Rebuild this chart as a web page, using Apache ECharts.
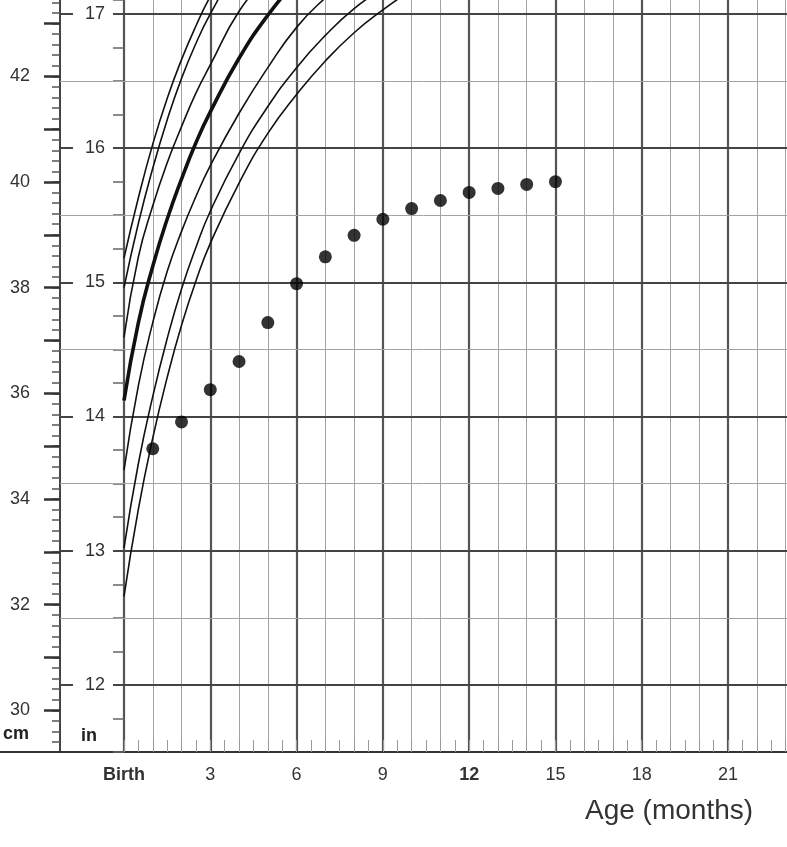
<!DOCTYPE html>
<html><head><meta charset="utf-8">
<script src="https://cdn.jsdelivr.net/npm/echarts@6/dist/echarts.min.js"></script>
<style>html,body{margin:0;padding:0;background:#fff}#c{width:787px;height:847px}</style>
</head><body><div id="c"></div>
<script>
// ---- data (inches vs age in months) ----
const ages = [0, 0.5, 1, 1.5, 2, 2.5, 3, 4, 5, 6, 7, 8, 9, 10];
const p95 = [15.18, 15.63, 16.03, 16.37, 16.66, 16.91, 17.13, 17.49, 17.78, 18.03, 18.24, 18.42, 18.58, 18.72];
const p90 = [14.96, 15.44, 15.85, 16.21, 16.52, 16.78, 17.00, 17.37, 17.67, 17.92, 18.13, 18.31, 18.47, 18.61];
const p75 = [14.59, 15.19, 15.57, 15.89, 16.16, 16.41, 16.62, 17.02, 17.28, 17.50, 17.69, 17.86, 18.01, 18.15];
const p50 = [14.12, 14.70, 15.12, 15.47, 15.77, 16.04, 16.27, 16.67, 16.99, 17.25, 17.47, 17.65, 17.81, 17.95];
const p25 = [13.60, 14.23, 14.70, 15.08, 15.38, 15.64, 15.87, 16.26, 16.60, 16.90, 17.12, 17.30, 17.45, 17.58];
const p10 = [13.02, 13.65, 14.15, 14.58, 14.95, 15.26, 15.53, 15.96, 16.31, 16.60, 16.84, 17.04, 17.19, 17.32];
const p5  = [12.66, 13.31, 13.84, 14.29, 14.68, 15.01, 15.29, 15.74, 16.11, 16.40, 16.65, 16.86, 17.03, 17.18];

const patientAges = [1, 2, 3, 4, 5, 6, 7, 8, 9, 10, 11, 12, 13, 14, 15];
const patientHC   = [13.76, 13.96, 14.20, 14.41, 14.70, 14.99, 15.19, 15.35, 15.47, 15.55, 15.61, 15.67, 15.70, 15.73, 15.75];

const monthTicks  = [0, 3, 6, 9, 12, 15, 18, 21];
const monthLabels = ['Birth', '3', '6', '9', '12', '15', '18', '21'];
const inchTicks   = [12, 13, 14, 15, 16, 17];
const halfInchTicks = [12.5, 13.5, 14.5, 15.5, 16.5];
const cmLabelTicks  = [30, 32, 34, 36, 38, 40, 42];
const cmMajorTicks  = [30, 31, 32, 33, 34, 35, 36, 37, 38, 39, 40, 41, 42, 43];

// ---- axis extents ----
const X_MIN = 0, X_MAX = 23.05;
const Y_MIN = 11.5, Y_MAX = 17.104;
const CM = 2.54;
const cmMinorTicks = [];
for (let k = 147; k <= 217; k++) cmMinorTicks.push(Math.round(k * 20) / 100);

const FONT = '"Liberation Sans", Arial, Helvetica, sans-serif';
const chart = echarts.init(document.getElementById('c'), null, {renderer: 'canvas'});

const off = {show: false};
const curveSet = [
  {d: p95, w: 1.6}, {d: p90, w: 1.6}, {d: p75, w: 1.6}, {d: p50, w: 3.6},
  {d: p25, w: 1.6}, {d: p10, w: 1.6}, {d: p5, w: 1.6}
];
const series = curveSet.map(c => ({
  type: 'line', xAxisIndex: 0, yAxisIndex: 0,
  data: ages.map((a, i) => [a, c.d[i]]),
  smooth: 0.5, symbol: 'none', clip: true, silent: true,
  lineStyle: {color: '#111', width: c.w}
}));
series.push({
  type: 'scatter', xAxisIndex: 0, yAxisIndex: 0,
  data: patientAges.map((a, i) => [a, patientHC[i]]),
  symbol: 'circle', symbolSize: 13, itemStyle: {color: '#000'}, silent: true, z: 5
});

const option = {
  animation: false,
  backgroundColor: '#fff',
  textStyle: {fontFamily: FONT},
  grid: [
    {left: 124, right: 0, top: 0, bottom: 95},
    {left: 60, width: 64, top: 0, bottom: 95},
    {left: 0, width: 60, top: 0, bottom: 95}
  ],
  xAxis: [
    {gridIndex: 0, type: 'value', position: 'bottom', min: X_MIN, max: X_MAX, interval: 1,
     axisLine: off, axisTick: off, axisLabel: off,
     splitLine: {show: true, showMinLine: false, showMaxLine: false, lineStyle: {color: '#a3a3a3', width: 1}}},
    {gridIndex: 0, type: 'value', position: 'bottom', min: X_MIN, max: X_MAX, interval: 3,
     axisLine: {show: true, onZero: false, lineStyle: {color: '#333', width: 2}},
     axisTick: off,
     axisLabel: {show: true, customValues: monthTicks, margin: 14, fontSize: 18, color: '#333',
       formatter: v => {
         const i = monthTicks.indexOf(v);
         if (i < 0) return '';
         const t = monthLabels[i];
         return (t === 'Birth' || t === '12') ? '{b|' + t + '}' : '{n|' + t + '}';
       },
       rich: {b: {fontWeight: 'bold', fontSize: 18, color: '#333', fontFamily: FONT},
              n: {fontSize: 18, color: '#333', fontFamily: FONT}}},
     splitLine: {show: true, showMaxLine: false, lineStyle: {color: '#555', width: 2.2}}},
    {gridIndex: 0, type: 'value', position: 'bottom', min: X_MIN, max: X_MAX, interval: 0.5,
     axisLine: off, axisLabel: off, splitLine: off,
     axisTick: {show: true, inside: true, length: 12, lineStyle: {color: '#999', width: 1}}},
    {gridIndex: 1, type: 'value', position: 'bottom', min: 0, max: 1, axisLabel: off, axisTick: off, splitLine: off,
     axisLine: {show: true, onZero: false, lineStyle: {color: '#333', width: 2}}},
    {gridIndex: 2, type: 'value', position: 'bottom', min: 0, max: 1, axisLabel: off, axisTick: off, splitLine: off,
     axisLine: {show: true, onZero: false, lineStyle: {color: '#333', width: 2}}}
  ],
  yAxis: [
    {gridIndex: 0, type: 'value', min: Y_MIN, max: Y_MAX, interval: 0.25, position: 'left',
     axisLine: off, axisLabel: off, splitLine: off,
     axisTick: {show: true, length: 11, lineStyle: {color: '#666', width: 1.5}}},
    {gridIndex: 1, type: 'value', min: Y_MIN, max: Y_MAX, position: 'left',
     axisLine: off, axisLabel: off, splitLine: off,
     axisTick: {show: true, inside: true, length: 727, customValues: halfInchTicks,
                lineStyle: {color: '#a3a3a3', width: 1}}},
    {gridIndex: 1, type: 'value', min: Y_MIN, max: Y_MAX, position: 'left',
     axisLine: {show: true, onZero: false, lineStyle: {color: '#444', width: 2}},
     axisLabel: off, splitLine: off,
     axisTick: {show: true, inside: true, length: 727, customValues: inchTicks,
                lineStyle: {color: '#444', width: 2.2}}},
    {gridIndex: 1, type: 'value', min: Y_MIN, max: Y_MAX, position: 'right', z: 10,
     axisLine: off, axisTick: off, splitLine: off,
     axisLabel: {show: true, inside: true, margin: 11, customValues: inchTicks,
       formatter: v => '{a|' + v + '}',
       rich: {a: {backgroundColor: '#fff', padding: [2, 8, 2, 12], fontSize: 18, color: '#333', fontFamily: FONT}}}},
    {gridIndex: 1, type: 'value', min: Y_MIN * CM, max: Y_MAX * CM, position: 'left',
     axisLine: off, axisLabel: off, splitLine: off,
     axisTick: {show: true, length: 8, customValues: cmMinorTicks, lineStyle: {color: '#555', width: 1.5}}},
    {gridIndex: 1, type: 'value', min: Y_MIN * CM, max: Y_MAX * CM, position: 'left',
     axisLine: off, splitLine: off,
     axisTick: {show: true, length: 16, customValues: cmMajorTicks, lineStyle: {color: '#333', width: 2.5}},
     axisLabel: {show: true, customValues: cmLabelTicks, margin: 30, fontSize: 18, color: '#333'}},
    {gridIndex: 2, type: 'value', min: 0, max: 1, position: 'left',
     axisLine: off, axisTick: off, axisLabel: off, splitLine: off}
  ],
  graphic: [
    {type: 'text', left: 3, top: 725, style: {text: 'cm', fontSize: 18, fontWeight: 'bold', fill: '#222', fontFamily: FONT}},
    {type: 'text', left: 81, top: 727, style: {text: 'in', fontSize: 18, fontWeight: 'bold', fill: '#222', fontFamily: FONT}},
    {type: 'text', left: 585, top: 797, style: {text: 'Age (months)', fontSize: 28, fill: '#333', fontFamily: FONT}}
  ],
  series: series
};
chart.setOption(option);
</script>
</body></html>
